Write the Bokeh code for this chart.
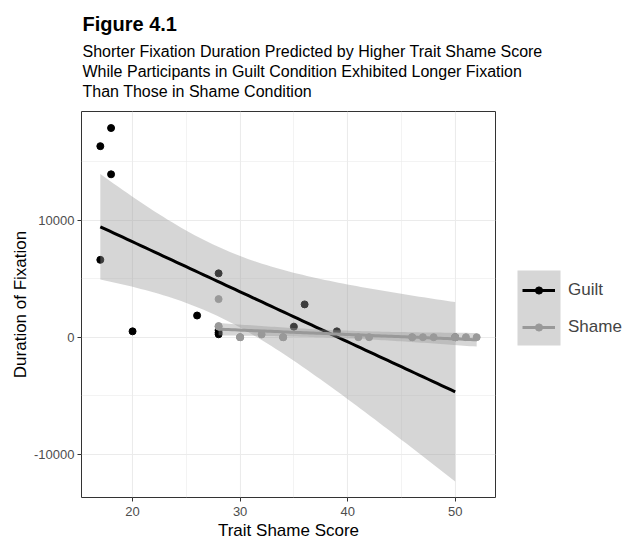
import math
import numpy as np
from bokeh.plotting import figure
from bokeh.layouts import row, column
from bokeh.models import FixedTicker, Legend, LegendItem, Range1d, Label, BoxAnnotation
from bokeh.embed import file_html
from bokeh.resources import INLINE

# ---- data ----
guilt_x = [17, 17, 18, 18, 20, 26, 28, 28, 28, 28, 35, 36, 39, 50]
guilt_y = [16300, 6600, 17850, 13900, 500, 1850, 5450, 600, 400, 250, 900, 2800, 500, 0]

shame_x = [28, 28, 28, 30, 30, 30, 32, 34, 34, 34, 41, 42, 46, 46, 47, 48, 50, 50, 51, 52]
shame_y = [3250, 950, 900, 0, 0, 0, 230, 0, 0, 0, 0, 0, 0, 0, 0, 0, 0, 0, 0, 0]

x_ticks = [20, 30, 40, 50]
x_minor = [25, 35, 45]
y_ticks = [-10000, 0, 10000]
y_minor = [-5000, 5000, 15000]
y_tick_labels = ["-10000", "0", "10000"]

title = "Figure 4.1"
subtitle = ["Shorter Fixation Duration Predicted by Higher Trait Shame Score",
            "While Participants in Guilt Condition Exhibited Longer Fixation",
            "Than Those in Shame Condition"]
x_title = "Trait Shame Score"
y_title = "Duration of Fixation"
groups = ["Guilt", "Shame"]

FONT = "Liberation Sans"
GUILT_COL = "black"
SHAME_COL = "#999999"
RIBBON = "#999999"

# page geometry (pixels)
W, H = 625, 544
TOP = 110          # height of the title strip
FRAME_L, FRAME_R, FRAME_T, FRAME_B = 81, 495, 111, 497


def t_quantile(p, df):
    g = np.linspace(0, 12, 240001)
    c = math.gamma((df + 1) / 2) / (math.sqrt(df * math.pi) * math.gamma(df / 2))
    pdf = c * (1 + g ** 2 / df) ** (-(df + 1) / 2)
    cdf = 0.5 + np.concatenate([[0.0], np.cumsum((pdf[1:] + pdf[:-1]) / 2 * np.diff(g))])
    return float(np.interp(p, cdf, g))


def lm_band(x, y, n=80):
    x = np.asarray(x, float)
    y = np.asarray(y, float)
    k = len(x)
    xm = x.mean()
    sxx = ((x - xm) ** 2).sum()
    b = ((x - xm) * (y - y.mean())).sum() / sxx
    a = y.mean() - b * xm
    res = y - (a + b * x)
    s = math.sqrt((res ** 2).sum() / (k - 2))
    xs = np.linspace(x.min(), x.max(), n)
    fit = a + b * xs
    se = s * np.sqrt(1.0 / k + (xs - xm) ** 2 / sxx)
    t = t_quantile(0.975, k - 2)
    return xs, fit, fit - t * se, fit + t * se


def bare_figure(width, height, xr, yr):
    f = figure(width=width, height=height, x_range=Range1d(*xr), y_range=Range1d(*yr),
               min_border=0, output_backend="svg", toolbar_location=None,
               x_axis_type=None, y_axis_type=None, outline_line_color=None,
               background_fill_color="white", border_fill_color="white")
    f.grid.visible = False
    return f


# ================= title strip =================
tf = bare_figure(W, TOP, (0, W), (TOP, 0))
tf.add_layout(Label(x=82, y=23, text=title, text_font=FONT,
                    text_font_style="bold", text_font_size="20px", text_color="black",
                    text_baseline="alphabetic"))
for i, line in enumerate(subtitle):
    tf.add_layout(Label(x=82, y=51 + 20 * i, text=line, text_font=FONT,
                        text_font_size="16px", text_color="black", text_baseline="alphabetic"))

# ================= main panel =================
PH = H - TOP
p = figure(width=FRAME_R + 2, height=PH, min_border_left=FRAME_L, min_border_right=2,
           min_border_top=FRAME_T - TOP, min_border_bottom=H - FRAME_B,
           x_range=Range1d(15.25, 53.75), y_range=Range1d(-13680, 19260),
           output_backend="svg", toolbar_location=None,
           background_fill_color="white", border_fill_color="white")

xt = FixedTicker(ticks=x_ticks, minor_ticks=x_minor)
yt = FixedTicker(ticks=y_ticks, minor_ticks=y_minor)
p.xaxis.ticker = xt
p.yaxis.ticker = yt
p.xgrid.ticker = xt
p.ygrid.ticker = yt
p.yaxis.major_label_overrides = {v: s for v, s in zip(y_ticks, y_tick_labels)}

for g in (p.xgrid, p.ygrid):
    g.grid_line_color = "#ebebeb"
    g.grid_line_width = 1.1
    g.minor_grid_line_color = "#ebebeb"
    g.minor_grid_line_width = 0.6

p.outline_line_color = "#333333"
p.outline_line_width = 1

for ax in (p.xaxis, p.yaxis):
    ax.axis_line_color = None
    ax.major_tick_line_color = "#333333"
    ax.major_tick_out = 4
    ax.major_tick_in = 0
    ax.minor_tick_line_color = None
    ax.major_label_text_font = FONT
    ax.major_label_text_font_size = "13px"
    ax.major_label_text_color = "#4d4d4d"
    ax.axis_label_text_font = FONT
    ax.axis_label_text_font_size = "17px"
    ax.axis_label_text_font_style = "normal"
    ax.axis_label_text_color = "black"

p.xaxis.axis_label = x_title
p.yaxis.axis_label = y_title
p.xaxis.major_label_standoff = 5
p.xaxis.axis_label_standoff = 2
p.yaxis.major_label_standoff = 3
p.yaxis.axis_label_standoff = 1

# points
p.scatter(guilt_x, guilt_y, size=7, color=GUILT_COL)
p.scatter(shame_x, shame_y, size=7, color=SHAME_COL)

# smooths (ribbon then line, per group)
gx, gfit, glo, ghi = lm_band(guilt_x, guilt_y)
p.varea(x=gx, y1=glo, y2=ghi, fill_color=RIBBON, fill_alpha=0.4)
p.line(gx, gfit, line_color=GUILT_COL, line_width=3)

sx, sfit, slo, shi = lm_band(shame_x, shame_y)
p.varea(x=sx, y1=slo, y2=shi, fill_color=RIBBON, fill_alpha=0.4)
p.line(sx, sfit, line_color=SHAME_COL, line_width=3)

# ================= legend strip (frame aligned with the main frame) =================
leg = bare_figure(W - FRAME_R - 2, PH, (FRAME_R + 2, W), (FRAME_B, FRAME_T))

# gray key background (ggplot draws the ribbon fill behind the keys)
leg.add_layout(BoxAnnotation(left=517, right=560, top=270, bottom=345,
                             fill_color=RIBBON, fill_alpha=0.4, line_color=None))

k_gl = leg.line(x=[0, 1], y=[0, 0], line_color=GUILT_COL, line_width=3)
k_gs = leg.scatter(x=[0], y=[0], color=GUILT_COL, size=7)
k_sl = leg.line(x=[0, 1], y=[0, 0], line_color=SHAME_COL, line_width=3)
k_ss = leg.scatter(x=[0], y=[0], color=SHAME_COL, size=7)

legend = Legend(items=[LegendItem(label=groups[0], renderers=[k_gl, k_gs]),
                       LegendItem(label=groups[1], renderers=[k_sl, k_ss])],
                location=(522 - (FRAME_R + 2), FRAME_B - 337),
                glyph_width=33, glyph_height=18, label_height=18,
                spacing=17, padding=0, margin=0, label_standoff=13,
                label_text_font=FONT, label_text_font_size="17px",
                background_fill_alpha=0, border_line_color=None)
leg.add_layout(legend)

open("out.html", "w").write(file_html(column(tf, row(p, leg)), INLINE))
